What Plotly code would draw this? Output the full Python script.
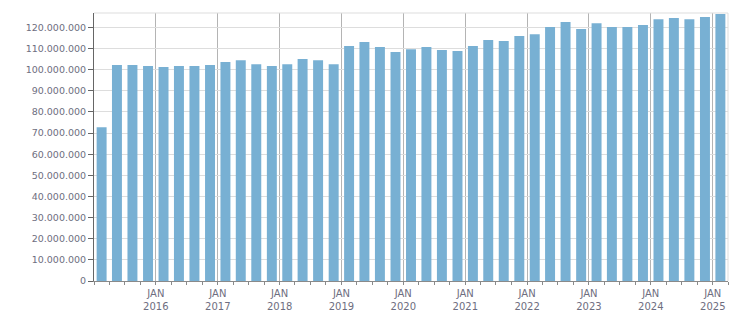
import plotly.graph_objects as go

quarters = [f"{y}-{m:02d}-01" for y in range(2015, 2026) for m in (1, 4, 7, 10)][:41]
values_m = [72.8, 102.2, 102.2, 101.7, 101.2, 101.7, 101.7, 102.2, 103.6, 104.5,
            102.6, 101.7, 102.6, 105.0, 104.5, 102.6, 111.2, 113.1, 110.7, 108.3,
            109.7, 110.7, 109.3, 108.8, 111.2, 114.0, 113.5, 115.9, 116.8, 120.2,
            122.5, 119.2, 122.0, 120.2, 120.2, 121.1, 123.9, 124.4, 123.9, 124.9,
            126.3]
values = [v * 1e6 for v in values_m]
year_ticks = [f"{y}-01-01" for y in range(2016, 2026)]
year_labels = [f"JAN<br>{y}" for y in range(2016, 2026)]

font_color = "#6e6e80"

fig = go.Figure(go.Bar(
    x=quarters, y=values,
    xperiod="M3", xperiodalignment="middle",
    marker=dict(color="#78b0d3", line=dict(width=0)),
))

# page body adds an 8px offset, so the figure is 743x305 placed at (8, 8)
fig.update_layout(
    width=743, height=305,
    margin=dict(l=86, r=23, t=5, b=32, autoexpand=False),
    plot_bgcolor="white", paper_bgcolor="white",
    bargap=0.35,
    separators=",.",
    showlegend=False,
    font=dict(family="DejaVu Sans, Verdana, sans-serif", size=10, color=font_color),
    xaxis=dict(
        type="date",
        automargin=False,
        range=["2015-01-01", "2025-04-01"],
        tickvals=year_ticks, ticktext=year_labels,
        showgrid=True, gridcolor="#b4b4b4", gridwidth=1,
        showline=True, linecolor="#8a8a8a", linewidth=1,
        ticks="outside", ticklen=3, tickcolor="#8a8a8a",
        minor=dict(dtick="M3", tick0="2015-01-01", ticks="outside", ticklen=3,
                   tickcolor="#8a8a8a", showgrid=False),
        tickfont=dict(size=10, color=font_color),
    ),
    yaxis=dict(
        automargin=False,
        range=[0, 126.8e6],
        dtick=10e6, tick0=0,
        tickformat=",d",
        showgrid=True, gridcolor="#dddddd", gridwidth=1,
        showline=True, linecolor="#666666", linewidth=1,
        ticks="outside", ticklen=5, tickcolor="#666666",
        zeroline=False,
        tickfont=dict(size=9.5, color=font_color),
    ),
    shapes=[
        dict(type="line", xref="paper", yref="paper", x0=0, x1=1, y0=1, y1=1,
             line=dict(color="#dddddd", width=1)),
        dict(type="line", xref="paper", yref="paper", x0=1, x1=1, y0=0, y1=1,
             line=dict(color="#dddddd", width=1)),
    ],
)

fig.write_html("out.html")
